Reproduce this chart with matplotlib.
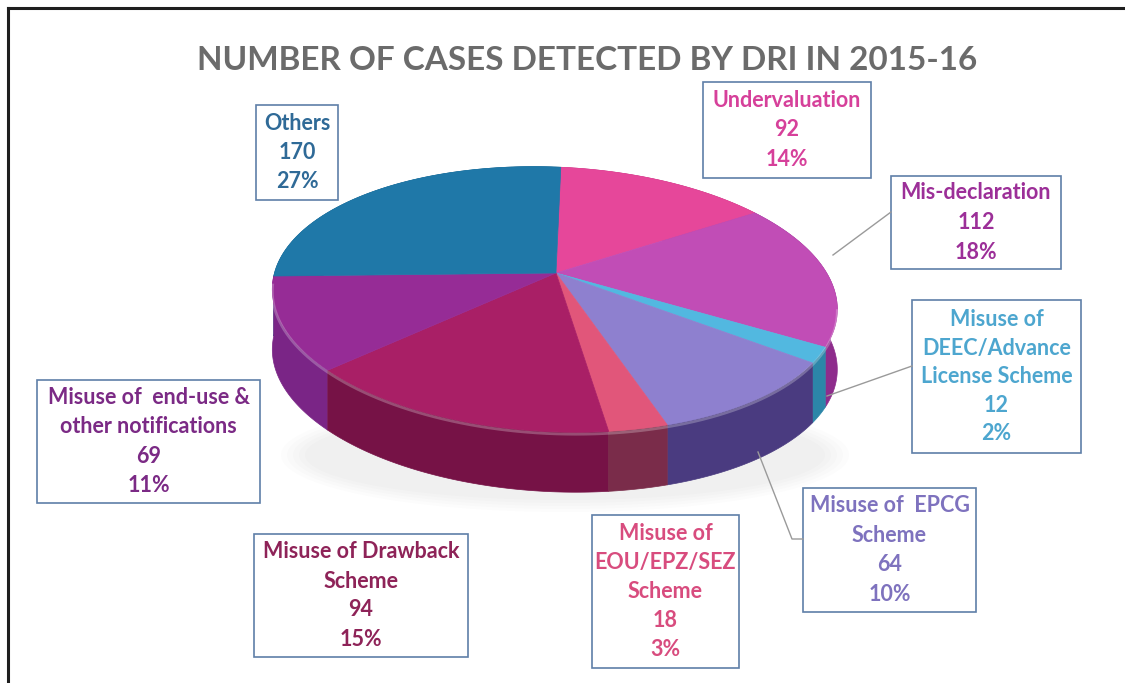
import numpy as np
import matplotlib.pyplot as plt
from matplotlib.patches import Polygon, Rectangle, Ellipse

# slices, clockwise from 12 o'clock
categories = ["Undervaluation", "Mis-declaration",
              "Misuse of\nDEEC/Advance\nLicense Scheme",
              "Misuse of  EPCG\nScheme", "Misuse of\nEOU/EPZ/SEZ\nScheme",
              "Misuse of Drawback\nScheme",
              "Misuse of  end-use &\nother notifications", "Others"]
cases = [92, 112, 12, 64, 18, 94, 69, 170]
percents = ["14%", "18%", "2%", "10%", "3%", "15%", "11%", "27%"]

top_colors = ["#E6479A", "#C14DB6", "#52B8E0", "#8E80CF",
              "#E1567A", "#A91F66", "#962C96", "#1F78A8"]
side_colors = ["#B8307A", "#8E2C8C", "#2C86A8", "#4A3B80",
               "#7A2C4A", "#761246", "#7A2586", "#175E85"]
text_colors = ["#D6409A", "#9C2F98", "#4DA6CF", "#7E72BE",
               "#D84C7E", "#8E2358", "#7B2A85", "#2F6A97"]

# label boxes in pixels: x0, y0, x1, y1, line spacing
boxes = [(703, 82, 871, 178, 29.5), (891, 176, 1061, 269, 30),
         (912, 300, 1081, 453, 28.5), (803, 488, 976, 612, 29.5),
         (592, 515, 739, 668, 29), (254, 534, 468, 657, 29),
         (37, 380, 260, 503, 29.3), (256, 105, 338, 200, 28.5)]
leaders = {1: [(891, 212), (833, 255)],
           2: [(912, 366), (827, 396)],
           3: [(803, 539), (792, 539), (758, 452)]}

W, H = 1125, 683
fig = plt.figure(figsize=(W / 100, H / 100), dpi=100)
ax = fig.add_axes([0, 0, 1, 1])
ax.set_xlim(0, W)
ax.set_ylim(H, 0)
ax.axis("off")

# pie geometry (pixels) with a simple perspective tilt
CX, CY = 556, 273
A, B, K = 277, 127, 0.2
DEPTH = 60
ROT = np.deg2rad(2.6)


def project(t, dy=0.0):
    x = np.sin(t)
    y = -np.cos(t)
    w = 1 - K * y
    X = A * x / w
    Y = B * y / w
    Xr = X * np.cos(ROT) - Y * np.sin(ROT)
    Yr = X * np.sin(ROT) + Y * np.cos(ROT)
    return CX + Xr, CY + Yr + dy


# faint shadow under the pie
for k in range(5):
    ax.add_patch(Ellipse((565, 455), 520 + 12 * k, 90 + 6 * k, fc="#909090",
                         ec="none", alpha=0.025, zorder=1))

fracs = np.array(cases) / np.sum(cases)
edges = np.concatenate([[0], np.cumsum(fracs)]) * 2 * np.pi

# side walls, back to front
sides = []
for i in range(len(cases)):
    t = np.linspace(edges[i], edges[i + 1], 80)
    xs, ys = project(t)
    xb, yb = project(t[::-1], DEPTH)
    pts = np.column_stack([np.concatenate([xs, xb]), np.concatenate([ys, yb])])
    sides.append((ys.mean(), pts, side_colors[i]))
for _, pts, c in sorted(sides, key=lambda s: s[0]):
    ax.add_patch(Polygon(pts, closed=True, fc=c, ec=c, lw=0.5, zorder=2))

# top faces
for i in range(len(cases)):
    t = np.linspace(edges[i], edges[i + 1], 80)
    xs, ys = project(t)
    pts = np.column_stack([np.concatenate([[CX], xs]), np.concatenate([[CY], ys])])
    ax.add_patch(Polygon(pts, closed=True, fc=top_colors[i], ec=top_colors[i],
                         lw=0.5, zorder=3))

# soft highlight on the front rim
t = np.linspace(np.deg2rad(100), np.deg2rad(260), 200)
xs, ys = project(t)
ax.plot(xs, ys + 2, color="white", alpha=0.25, lw=2, zorder=4)

# label boxes
for i, (x0, y0, x1, y1, sp) in enumerate(boxes):
    ax.add_patch(Rectangle((x0, y0), x1 - x0, y1 - y0, fill=False,
                           ec="#5F7FA8", lw=1.2, zorder=5))
    lines = categories[i].split("\n") + [str(cases[i]), percents[i]]
    n = len(lines)
    yc = (y0 + y1) / 2
    for j, s in enumerate(lines):
        ax.text((x0 + x1) / 2, yc + (j - (n - 1) / 2) * sp, s, ha="center",
                va="center", fontsize=15.5, fontweight="bold", family="Lato",
                color=text_colors[i], zorder=6)

for i, pts in leaders.items():
    ax.plot([p[0] for p in pts], [p[1] for p in pts], color="#9A9A9A", lw=1,
            zorder=5)

# title
title = ax.text(587, 60, "NUMBER OF CASES DETECTED BY DRI IN 2015-16", ha="center",
                va="center", fontsize=24, fontweight="bold", family="Lato",
                color="#6B6B6B")
fig.canvas.draw()
bb = title.get_window_extent()
title.set_fontsize(24 * 780 / bb.width)

# frame lines of the slide
ax.plot([8, W], [8, 8], color="#1E1E1E", lw=2.2, zorder=7)
ax.plot([8, 8], [8, H], color="#1E1E1E", lw=2.2, zorder=7)

fig.savefig("out.png", dpi=100)
